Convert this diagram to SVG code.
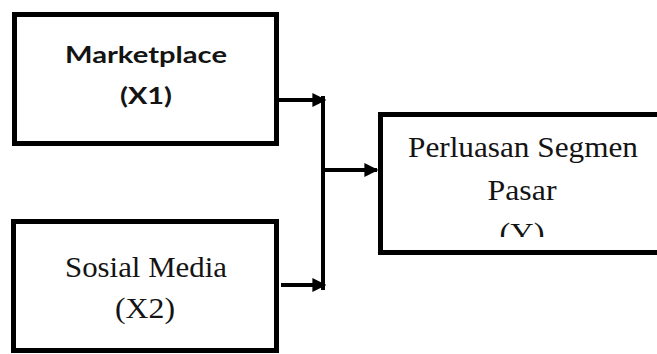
<svg xmlns="http://www.w3.org/2000/svg" width="657" height="354" viewBox="0 0 657 354">
<style>
.box{fill:#fff;stroke:#000;stroke-width:5}
.ln{fill:none;stroke:#000;stroke-width:4}
.sans{font-family:Lato,"Liberation Sans",sans-serif;font-weight:bold;font-size:22px;fill:#141414}
.serif{font-family:"Liberation Serif","Times New Roman",serif;font-size:30px;fill:#141414}
</style>
<defs>
<marker id="ah" viewBox="0 0 10 10" refX="9" refY="5" markerWidth="3.5" markerHeight="3.5" orient="auto" markerUnits="strokeWidth">
<path d="M0,0 L10,5 L0,10 z" fill="#000"/>
</marker>
<clipPath id="cy"><rect x="380" y="115" width="277" height="122"/></clipPath>
</defs>
<rect width="657" height="354" fill="#fff"/>
<g id="connectors">
<line class="ln" x1="323" y1="96" x2="323" y2="290"/>
<line class="ln" x1="278" y1="100" x2="325" y2="100" marker-end="url(#ah)"/>
<line class="ln" x1="281" y1="285" x2="325" y2="285" marker-end="url(#ah)"/>
<line class="ln" x1="321" y1="170" x2="377" y2="170" marker-end="url(#ah)"/>
</g>
<g id="x1">
<rect class="box" x="14.5" y="14.5" width="262" height="129"/>
<text class="sans" x="146" y="63" text-anchor="middle" textLength="162" lengthAdjust="spacingAndGlyphs">Marketplace</text>
<text class="sans" x="146" y="104" text-anchor="middle" textLength="52" lengthAdjust="spacingAndGlyphs">(X1)</text>
</g>
<g id="x2">
<rect class="box" x="13.5" y="221.5" width="263" height="129"/>
<text class="serif" x="146" y="277" text-anchor="middle" textLength="162" lengthAdjust="spacingAndGlyphs">Sosial Media</text>
<text class="serif" x="145" y="318" text-anchor="middle" textLength="60" lengthAdjust="spacingAndGlyphs">(X2)</text>
</g>
<g id="y">
<rect class="box" x="380.5" y="114.5" width="290" height="138"/>
<text class="serif" x="523" y="157" text-anchor="middle" textLength="230" lengthAdjust="spacingAndGlyphs">Perluasan Segmen</text>
<text class="serif" x="522" y="200" text-anchor="middle" textLength="69" lengthAdjust="spacingAndGlyphs">Pasar</text>
<text class="serif" x="522" y="243" text-anchor="middle" textLength="45" lengthAdjust="spacingAndGlyphs" clip-path="url(#cy)">(Y)</text>
</g>
</svg>
